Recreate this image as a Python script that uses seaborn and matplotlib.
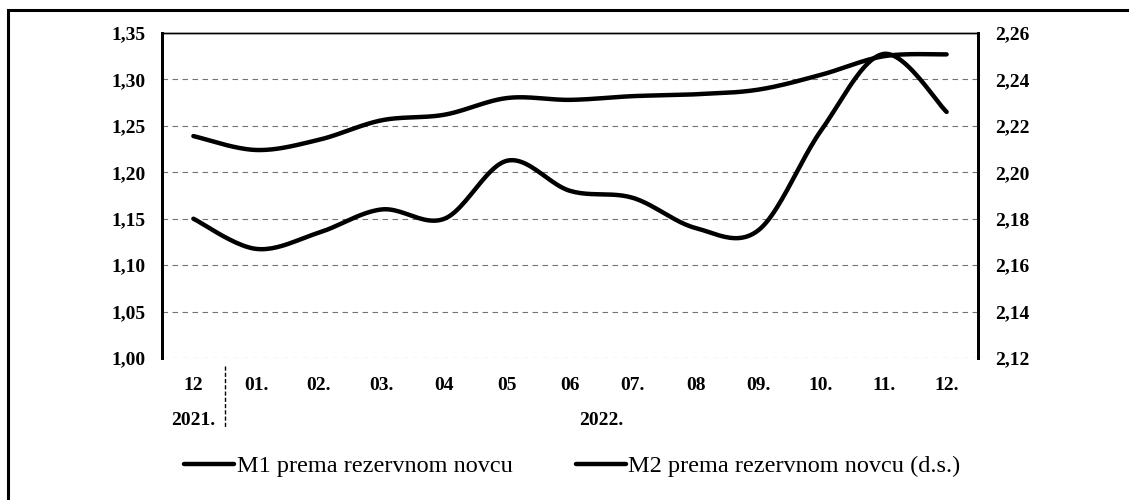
import numpy as np
import pandas as pd
import seaborn as sns
import matplotlib
matplotlib.use("Agg")
import matplotlib.pyplot as plt
from matplotlib.patches import Rectangle
from matplotlib.ticker import FuncFormatter, MultipleLocator
from matplotlib.lines import Line2D
import matplotlib.transforms as mtransforms

# Monthly ratios, Dec 2021 - Dec 2022
months = ["12", "01.", "02.", "03.", "04", "05", "06", "07.", "08", "09.", "10.", "11.", "12."]
m1_ratio = [1.239, 1.224, 1.235, 1.256, 1.262, 1.280, 1.278, 1.282, 1.284, 1.289, 1.305, 1.325, 1.327]
m2_ratio = [2.180, 2.167, 2.174, 2.184, 2.180, 2.205, 2.192, 2.189, 2.176, 2.175, 2.218, 2.251, 2.226]
years = ["2021.", "2022."]
labels = ["M1 prema rezervnom novcu", "M2 prema rezervnom novcu (d.s.)"]


def smooth(xv, yv, n=24):
    """Catmull-Rom style Bezier smoothing of a line through the given points."""
    x = np.asarray(xv, float)
    y = np.asarray(yv, float)
    px = np.concatenate([[x[0]], x, [x[-1]]])
    py = np.concatenate([[y[0]], y, [y[-1]]])
    out_x, out_y = [], []
    t = np.linspace(0, 1, n, endpoint=False)
    for i in range(1, len(px) - 2):
        p0 = np.array([px[i - 1], py[i - 1]])
        p1 = np.array([px[i], py[i]])
        p2 = np.array([px[i + 1], py[i + 1]])
        p3 = np.array([px[i + 2], py[i + 2]])
        c1 = p1 + (p2 - p0) / 6.0
        c2 = p2 - (p3 - p1) / 6.0
        b = ((1 - t) ** 3)[:, None] * p1 + (3 * (1 - t) ** 2 * t)[:, None] * c1 \
            + (3 * (1 - t) * t ** 2)[:, None] * c2 + (t ** 3)[:, None] * p2
        out_x.extend(b[:, 0])
        out_y.extend(b[:, 1])
    out_x.append(x[-1])
    out_y.append(y[-1])
    return np.array(out_x), np.array(out_y)


sns.set_theme(style="white")
plt.rcParams["font.family"] = ["Liberation Serif", "DejaVu Serif"]
plt.rcParams["text.color"] = "black"

fig = plt.figure(figsize=(11.29, 5.0), dpi=100)

# outer frame
fig.patches.append(Rectangle((8 / 1129, -0.05), 1.2, 1 - 10 / 500 + 0.05,
                             transform=fig.transFigure, fill=False,
                             edgecolor="black", lw=2.2))

ax = fig.add_axes([162 / 1129, 1 - 358 / 500, (978 - 162) / 1129, (358 - 33) / 500])
ax2 = ax.twinx()

xpos = np.arange(len(months))
df = pd.DataFrame({"x": xpos, "m1": m1_ratio, "m2": m2_ratio})

sx1, sy1 = smooth(df["x"], df["m1"])
sx2, sy2 = smooth(df["x"], df["m2"])
sns.lineplot(x=sx1, y=sy1, ax=ax, color="black", lw=3.2, sort=False, estimator=None)
sns.lineplot(x=sx2, y=sy2, ax=ax2, color="black", lw=3.2, sort=False, estimator=None)

ax.set_xlim(-0.5, len(months) - 0.5)
ax.set_ylim(1.00, 1.35)
ax2.set_ylim(2.12, 2.26)
ax.yaxis.set_major_locator(MultipleLocator(0.05))
ax2.yaxis.set_major_locator(MultipleLocator(0.02))
ax.yaxis.set_major_formatter(FuncFormatter(lambda v, p: f"{v:.2f}".replace(".", ",")))
ax2.yaxis.set_major_formatter(FuncFormatter(lambda v, p: f"{v:.2f}".replace(".", ",")))

ax.set_xticks(xpos)
ax.set_xticklabels(months)

# dashed horizontal gridlines
ax.grid(False)
ax2.grid(False)
for v in np.arange(1.00, 1.351, 0.05):
    if v > 1.34:
        continue
    ax.axhline(v, color="black", lw=0.8, ls=(0, (5, 4)), alpha=0.55, zorder=0)

tick_size = 14
tick_font = dict(fontsize=tick_size, fontweight="bold", color="black")
ax.tick_params(axis="x", length=0, pad=14, labelsize=tick_size)
ax.tick_params(axis="y", length=0, pad=12, labelsize=tick_size)
ax2.tick_params(axis="y", length=0, pad=12, labelsize=tick_size)
for lab in ax.get_xticklabels() + ax.get_yticklabels() + ax2.get_yticklabels():
    lab.set_fontweight("bold")
    lab.set_color("black")

for a in (ax, ax2):
    for s in a.spines.values():
        s.set_color("black")
    a.spines["bottom"].set_visible(False)
    a.spines["top"].set_linewidth(1.0)
    a.spines["left"].set_linewidth(2.0)
    a.spines["right"].set_linewidth(2.0)
    a.set_xlabel("")
    a.set_ylabel("")

# year row and separator
trans = mtransforms.blended_transform_factory(ax.transData, ax.transAxes)
ax.text(0, -0.192, years[0], transform=trans, ha="center", va="center", **tick_font)
ax.text((1 + len(months) - 1) / 2, -0.192, years[1], transform=trans, ha="center", va="center", **tick_font)
ax.add_line(Line2D([0.5, 0.5], [-0.025, -0.215], transform=trans, color="black",
                   lw=1.0, ls=(0, (3, 1.5)), clip_on=False))

handles = [Line2D([], [], color="black", lw=3.2), Line2D([], [], color="black", lw=3.2)]
leg = fig.legend(handles, labels, loc="center left", bbox_to_anchor=(165 / 1129, 1 - 466 / 500),
                 ncol=2, frameon=False, fontsize=17.5, handlelength=2.05, handletextpad=0.1,
                 columnspacing=2.6, borderpad=0.3)
for txt in leg.get_texts():
    txt.set_color("black")

fig.savefig("out.png", dpi=100)
